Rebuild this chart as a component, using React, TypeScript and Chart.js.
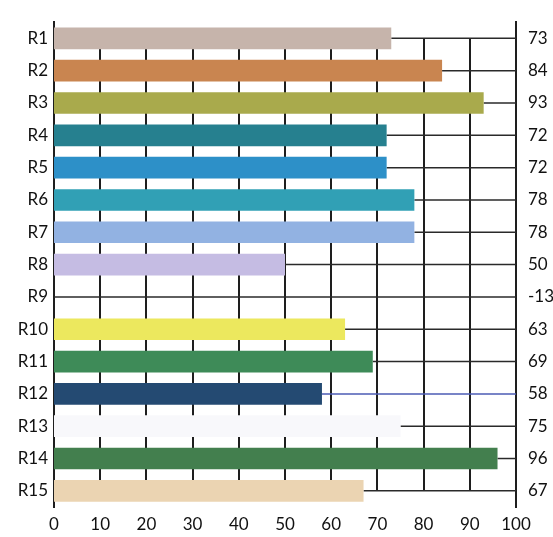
import React, { useEffect, useRef } from "react";
import { Chart, registerables } from "chart.js";

Chart.register(...registerables);

const categories = ["R1", "R2", "R3", "R4", "R5", "R6", "R7", "R8", "R9", "R10", "R11", "R12", "R13", "R14", "R15"];
const values = [73, 84, 93, 72, 72, 78, 78, 50, -13, 63, 69, 58, 75, 96, 67];
const valueLabels = values.map((v) => String(v));
const barColors = [
  "#c6b4ab", "#c98550", "#a9aa4c", "#26808f", "#2d90c8",
  "#31a0b5", "#92b2e2", "#c5bce3", "#cccccc", "#ece85e",
  "#3e8b58", "#244a72", "#f8f8fb", "#437f4e", "#ebd4b2",
];
const leaderColors = values.map((_, i) => (i === 11 ? "#4b5bb5" : "#2a2a2a"));
const xTicks = [0, 10, 20, 30, 40, 50, 60, 70, 80, 90, 100];

const FONT = "Lato, 'Open Sans', sans-serif";

const guidePlugin = {
  id: "guides",
  beforeDatasetsDraw(chart: any) {
    const { ctx, scales } = chart;
    const x = scales.x;
    const y = scales.y;
    const top = y.getPixelForValue(0);
    const bottom = y.getPixelForValue(categories.length - 1);
    ctx.save();
    ctx.strokeStyle = "#1e1e1e";
    ctx.lineWidth = 2;
    xTicks.slice(1, -1).forEach((t) => {
      const px = Math.round(x.getPixelForValue(t));
      ctx.beginPath();
      ctx.moveTo(px, top);
      ctx.lineTo(px, bottom);
      ctx.stroke();
    });
    ctx.lineWidth = 1.5;
    values.forEach((v, i) => {
      const py = y.getPixelForValue(i);
      ctx.strokeStyle = leaderColors[i];
      ctx.beginPath();
      ctx.moveTo(x.getPixelForValue(Math.max(0, v)), py);
      ctx.lineTo(x.getPixelForValue(100), py);
      ctx.stroke();
    });
    ctx.restore();
  },
};

export default function App() {
  const ref = useRef<HTMLCanvasElement>(null);
  useEffect(() => {
    const chart = new Chart(ref.current as HTMLCanvasElement, {
      type: "bar",
      data: {
        labels: categories,
        datasets: [
          {
            data: values,
            backgroundColor: barColors,
            borderWidth: 0,
            barPercentage: 0.67,
            categoryPercentage: 1,
            yAxisID: "y",
          },
        ],
      },
      options: {
        indexAxis: "y",
        animation: false,
        responsive: true,
        maintainAspectRatio: false,
        layout: { padding: { top: 4, left: 0, right: 0, bottom: 0 } },
        plugins: { legend: { display: false }, tooltip: { enabled: false } },
        scales: {
          x: {
            type: "linear",
            min: 0,
            max: 100,
            ticks: { stepSize: 10, color: "#111", font: { family: FONT, size: 17 }, padding: 7 },
            grid: { display: false, drawTicks: false },
            border: { display: false },
            afterFit: (s: any) => {
              s.height = 30;
            },
          },
          y: {
            type: "category",
            position: "left",
            offset: true,
            ticks: { color: "#111", font: { family: FONT, size: 17 }, padding: 6 },
            grid: { display: false, drawTicks: false },
            border: { display: true, color: "#1e1e1e", width: 2 },
            afterFit: (s: any) => {
              s.width = 54;
            },
          },
          y2: {
            type: "category",
            position: "right",
            labels: valueLabels,
            offset: true,
            ticks: { color: "#111", font: { family: FONT, size: 17 }, padding: 12 },
            grid: { display: false, drawTicks: false },
            border: { display: true, color: "#1e1e1e", width: 2 },
            afterFit: (s: any) => {
              s.width = 37;
            },
          },
        },
      } as any,
      plugins: [guidePlugin],
    });
    return () => chart.destroy();
  }, []);
  return (
    <div style={{ position: "fixed", left: 0, top: 0, width: 553, height: 537, background: "#fff" }}>
      <canvas ref={ref} />
    </div>
  );
}
